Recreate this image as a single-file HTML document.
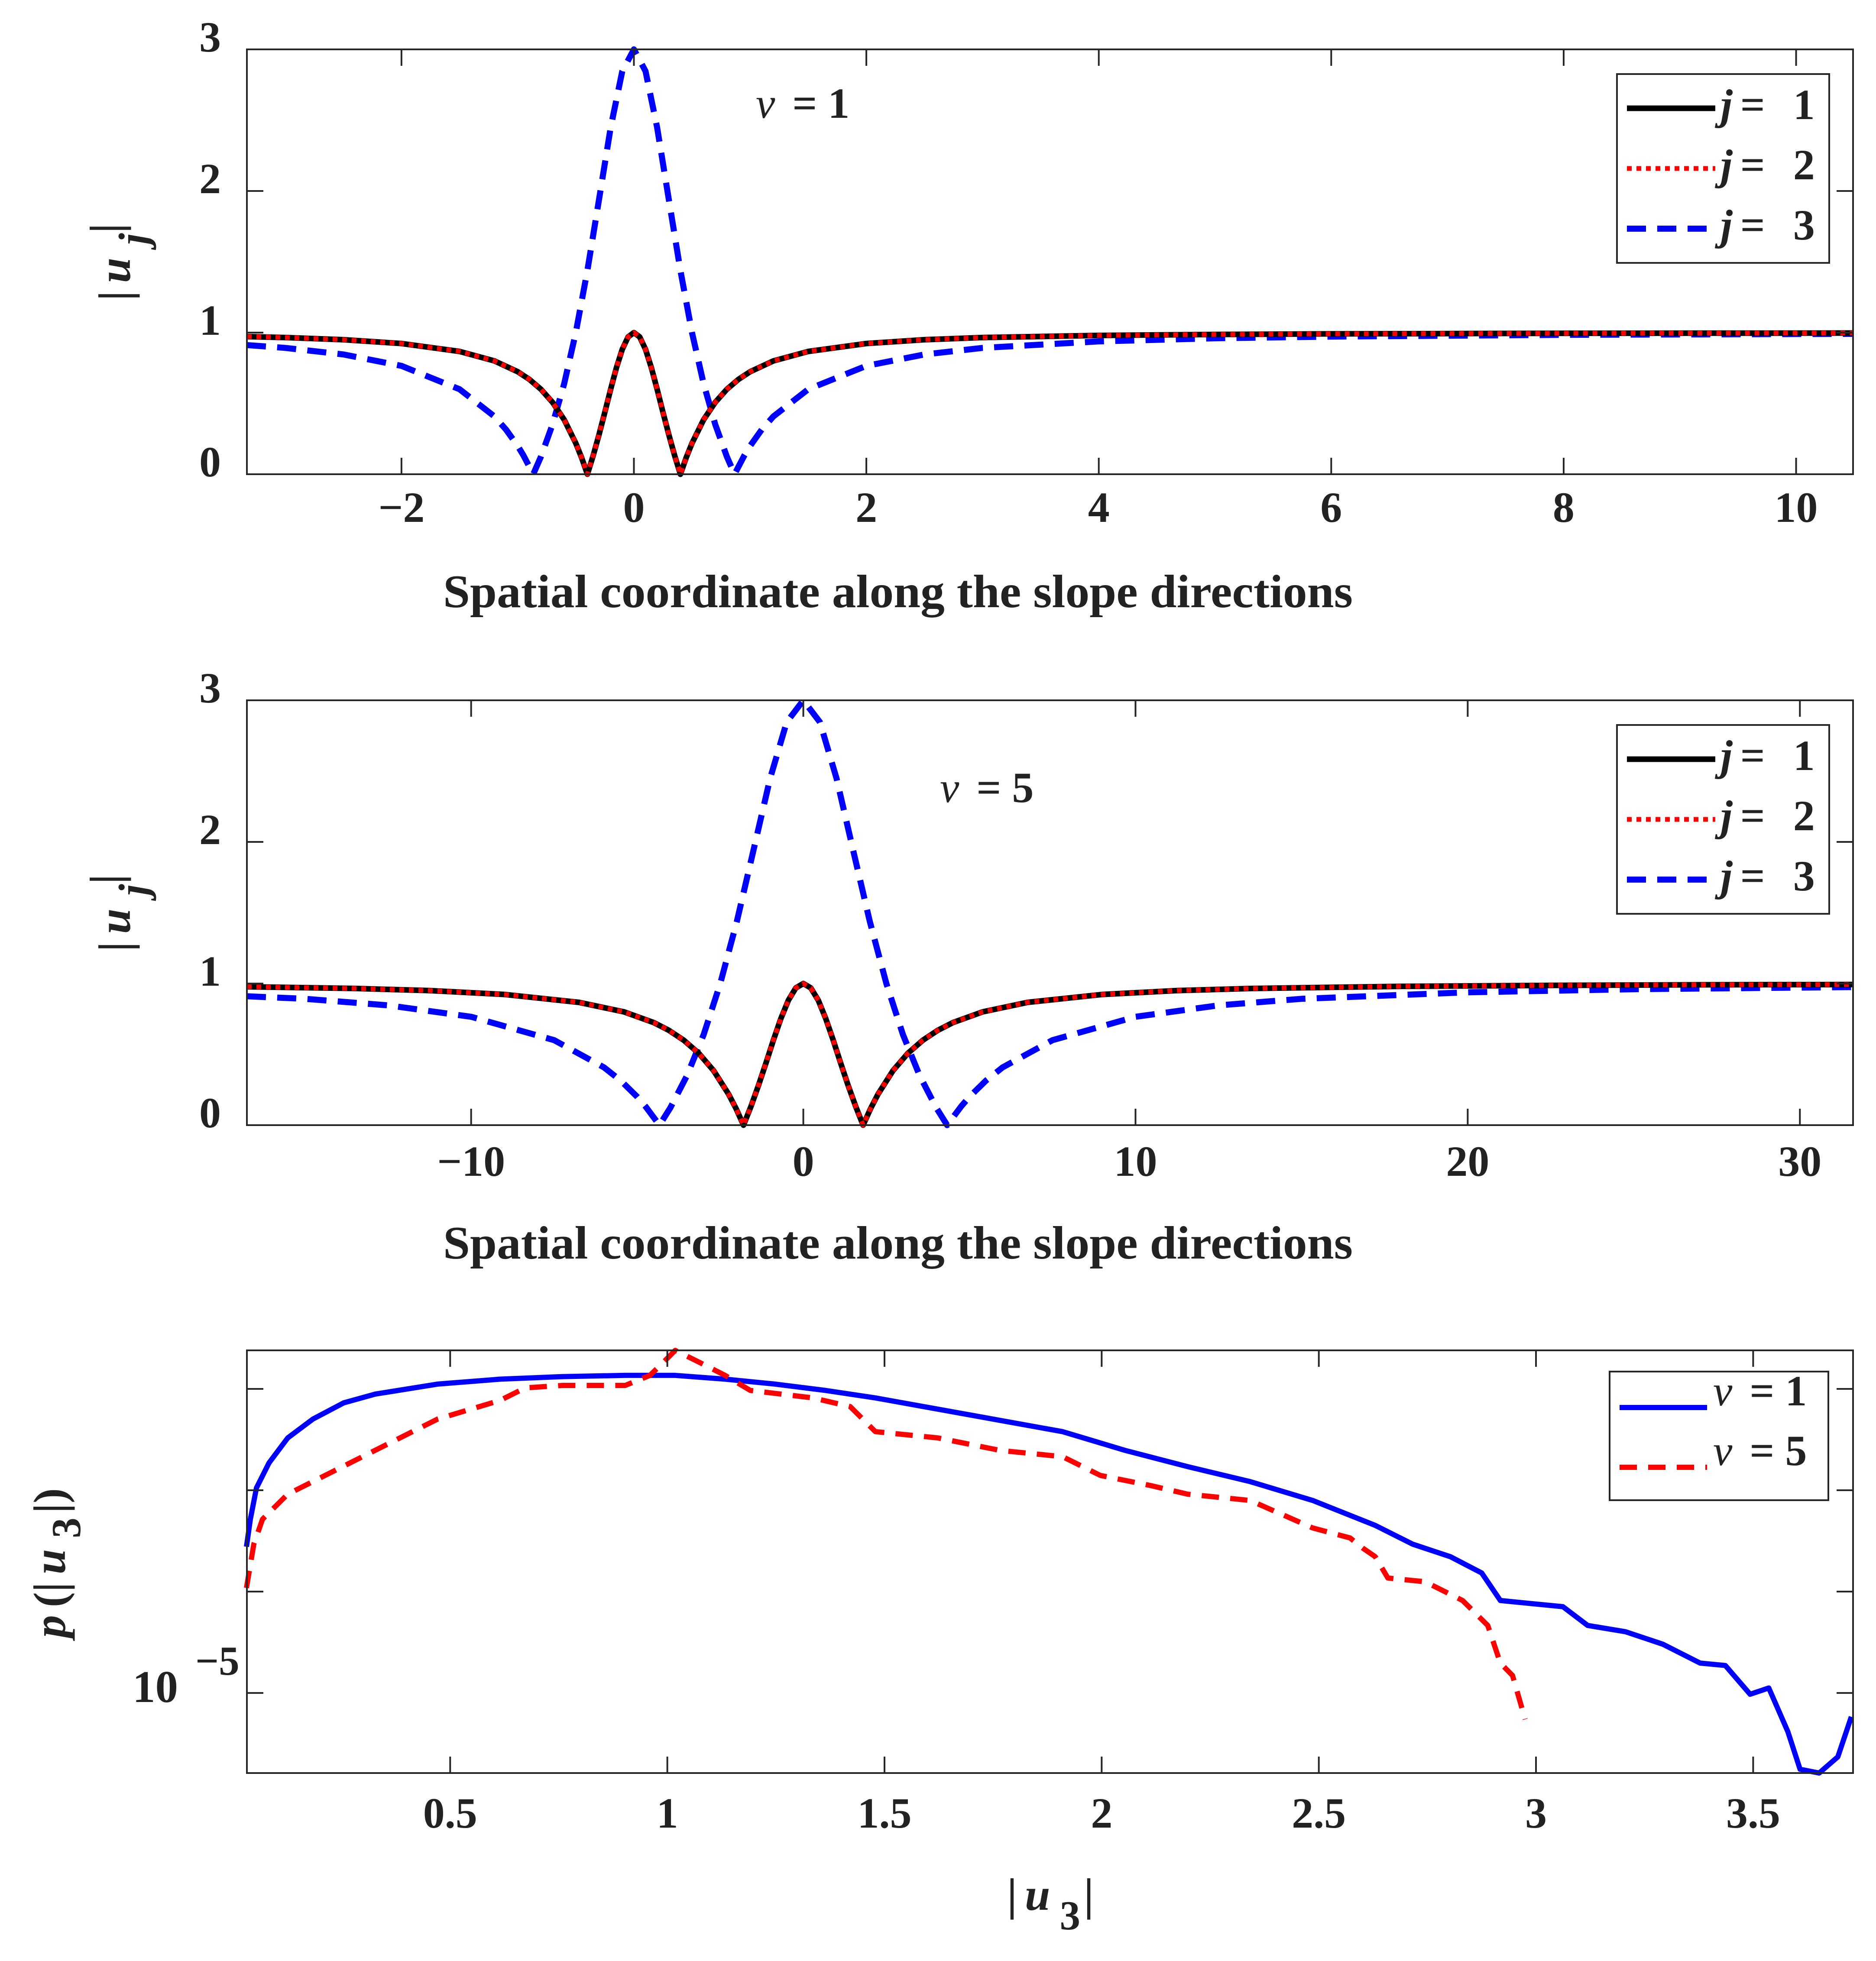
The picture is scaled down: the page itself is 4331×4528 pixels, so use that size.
<!DOCTYPE html>
<html><head><meta charset="utf-8"><style>
html,body{margin:0;padding:0;background:#fff}
svg{display:block}
text{font-family:"Liberation Serif",serif;font-weight:bold;fill:#222}
.it{font-style:italic}
</style></head><body>
<svg id="fig" width="4331" height="4528" viewBox="0 0 4331 4528" xmlns="http://www.w3.org/2000/svg"></svg>
<script>
// ---------- Panel 1 data (v = 1) ----------
const p1U1X = [-3.33,-3,-2.5,-2,-1.5,-1.2,-1,-0.9,-0.8,-0.7,-0.6,-0.5,-0.45,-0.4,-0.35,-0.3,-0.25,-0.2,-0.15,-0.1,-0.05,0,0.05,0.1,0.15,0.2,0.25,0.3,0.35,0.4,0.45,0.5,0.6,0.7,0.8,0.9,1,1.2,1.5,2,2.5,3,4,5,6,8,10.49];
const p1U1Y = [0.972,0.965,0.950,0.923,0.867,0.800,0.724,0.670,0.600,0.508,0.385,0.219,0.117,0,0.133,0.28,0.438,0.6,0.753,0.882,0.969,1,0.969,0.882,0.753,0.6,0.438,0.28,0.133,0,0.117,0.219,0.385,0.508,0.600,0.670,0.724,0.800,0.867,0.923,0.950,0.965,0.980,0.987,0.991,0.995,0.997];
const p1U2X = p1U1X.slice();
const p1U2Y = p1U1Y.slice();
const p1U3X = [-3.33,-3,-2.5,-2,-1.5,-1.2,-1.1,-1,-0.95,-0.866,-0.8,-0.7,-0.6,-0.5,-0.4,-0.3,-0.2,-0.1,0,0.1,0.2,0.3,0.4,0.5,0.6,0.7,0.8,0.866,0.95,1,1.1,1.2,1.5,2,2.5,3,4,5,6,8,10.49];
const p1U3Y = [0.912,0.892,0.846,0.765,0.6,0.408,0.315,0.2,0.132,0,0.124,0.351,0.639,1.0,1.439,1.941,2.448,2.846,3,2.846,2.448,1.941,1.439,1.0,0.639,0.351,0.124,0,0.132,0.2,0.315,0.408,0.6,0.765,0.846,0.892,0.938,0.960,0.972,0.984,0.991];
const p1XTicks = [-2,0,2,4,6,8,10];
const p1XTickLabels = ["\u22122","0","2","4","6","8","10"];
const p1YTicks = [0,1,2,3];
const p1YTickLabels = ["0","1","2","3"];

// ---------- Panel 2 data (v = 5) ----------
const p2U1X = [-16.75,-13.5,-11.25,-9,-6.75,-5.4,-4.5,-4.05,-3.6,-3.15,-2.7,-2.25,-2.025,-1.8,-1.575,-1.35,-1.125,-0.9,-0.675,-0.45,-0.225,0,0.225,0.45,0.675,0.9,1.125,1.35,1.575,1.8,2.025,2.25,2.7,3.15,3.6,4.05,4.5,5.4,6.75,9,11.25,13.5,18,22.5,27,31.6];
const p2U1Y = [0.977,0.965,0.950,0.923,0.867,0.800,0.724,0.670,0.600,0.508,0.385,0.219,0.117,0,0.133,0.28,0.438,0.6,0.753,0.882,0.969,1,0.969,0.882,0.753,0.6,0.438,0.28,0.133,0,0.117,0.219,0.385,0.508,0.600,0.670,0.724,0.800,0.867,0.923,0.950,0.965,0.980,0.987,0.991,0.993];
const p2U2X = p2U1X.slice();
const p2U2Y = p2U1Y.slice();
const p2U3X = [-16.75,-15,-12.5,-10,-7.5,-6,-5.5,-5,-4.75,-4.33,-4,-3.5,-3,-2.5,-2,-1.5,-1,-0.5,0,0.5,1,1.5,2,2.5,3,3.5,4,4.33,4.75,5,5.5,6,7.5,10,12.5,15,20,25,31.6];
const p2U3Y = [0.91,0.892,0.846,0.765,0.6,0.408,0.315,0.2,0.132,0,0.124,0.351,0.639,1.0,1.439,1.941,2.448,2.846,3,2.846,2.448,1.941,1.439,1.0,0.639,0.351,0.124,0,0.132,0.2,0.315,0.408,0.6,0.765,0.846,0.892,0.938,0.960,0.975];
const p2XTicks = [-10,0,10,20,30];
const p2XTickLabels = ["\u221210","0","10","20","30"];
const p2YTicks = [0,1,2,3];
const p2YTickLabels = ["0","1","2","3"];

// ---------- Panel 3 data (PDF, log10 p) ----------
const p3V1X = [0.031,0.040,0.054,0.083,0.126,0.184,0.255,0.327,0.471,0.615,0.759,0.903,1.018,1.133,1.248,1.364,1.479,1.623,1.766,1.910,2.054,2.198,2.342,2.486,2.630,2.716,2.803,2.875,2.918,2.975,3.062,3.119,3.206,3.292,3.378,3.436,3.493,3.536,3.580,3.608,3.652,3.695,3.726];
const p3V1LogP = [-3.557,-3.286,-2.977,-2.730,-2.484,-2.298,-2.138,-2.052,-1.953,-1.904,-1.879,-1.867,-1.867,-1.904,-1.953,-2.015,-2.089,-2.200,-2.311,-2.422,-2.607,-2.767,-2.915,-3.101,-3.347,-3.532,-3.656,-3.816,-4.088,-4.112,-4.149,-4.334,-4.396,-4.519,-4.705,-4.729,-5.013,-4.951,-5.383,-5.753,-5.790,-5.630,-5.235];
const p3V5X = [0.031,0.048,0.068,0.126,0.212,0.327,0.471,0.615,0.673,0.759,0.903,0.960,1.004,1.018,1.076,1.133,1.191,1.335,1.421,1.479,1.623,1.766,1.910,1.997,2.112,2.198,2.342,2.486,2.572,2.601,2.630,2.659,2.745,2.831,2.889,2.918,2.946,2.975];
const p3V5LogP = [-3.964,-3.532,-3.286,-3.039,-2.854,-2.607,-2.298,-2.114,-1.990,-1.966,-1.966,-1.867,-1.682,-1.620,-1.743,-1.867,-2.015,-2.089,-2.175,-2.422,-2.484,-2.607,-2.669,-2.854,-2.953,-3.039,-3.101,-3.372,-3.471,-3.570,-3.656,-3.866,-3.903,-4.088,-4.334,-4.705,-4.828,-5.260];
const p3XTicks = [0.5,1,1.5,2,2.5,3,3.5];
const p3XTickLabels = ["0.5","1","1.5","2","2.5","3","3.5"];
const p3YTicks = [-5,-4,-3,-2];

const NS = "http://www.w3.org/2000/svg";
const svg = document.getElementById("fig");
function mk(tag, attrs, parent){
  const e = document.createElementNS(NS, tag);
  for (const k in attrs) e.setAttribute(k, attrs[k]);
  (parent || svg).appendChild(e);
  return e;
}
const L = 570, R = 4278, TICK = 38;

function axes(top, bot, xmin, xmax, ymin, ymax, name){
  const g = mk("g", {});
  
  
  const sx = v => L + (v - xmin) / (xmax - xmin) * (R - L);
  const sy = v => bot - (v - ymin) / (ymax - ymin) * (bot - top);
  return {g, sx, sy, top, bot};
}
function drawFrame(ax, xt, xtl, yt, ytl, xlabelY){
  const fr = mk("g", {}, ax.g);
  
  
  mk("rect", {x:L, y:ax.top, width:R-L, height:ax.bot-ax.top, fill:"none", stroke:"#262626", "stroke-width":4}, fr);
  xt.forEach((v,i) => {
    const x = ax.sx(v);
    mk("line", {x1:x, x2:x, y1:ax.bot, y2:ax.bot-TICK, stroke:"#262626", "stroke-width":4}, fr);
    mk("line", {x1:x, x2:x, y1:ax.top, y2:ax.top+TICK, stroke:"#262626", "stroke-width":4}, fr);
    if (xtl) {
      const t = mk("text", {x:x, y:xlabelY, "font-size":100, "text-anchor":"middle"}, ax.g);
      
      
      t.textContent = xtl[i];
    }
  });
  yt.forEach((v,i) => {
    const y = ax.sy(v);
    mk("line", {x1:L, x2:L+TICK, y1:y, y2:y, stroke:"#262626", "stroke-width":4}, fr);
    mk("line", {x1:R, x2:R-TICK, y1:y, y2:y, stroke:"#262626", "stroke-width":4}, fr);
    if (ytl) {
      const t = mk("text", {x:510, y:y+5, "font-size":100, "text-anchor":"end"}, ax.g);
      
      
      t.textContent = ytl[i];
    }
  });
}
function series(ax, xs, ys, style, name){
  let d = "";
  xs.forEach((x,i) => { d += (i ? "L" : "M") + ax.sx(x).toFixed(1) + "," + ax.sy(ys[i]).toFixed(1); });
  const p = mk("path", Object.assign({d:d, fill:"none", "stroke-linejoin":"round"}, style), ax.g);
  
  
  return p;
}
const sBlack = {stroke:"#000", "stroke-width":13};
const sRed = {stroke:"#ff0000", "stroke-width":11, "stroke-dasharray":"11 11"};
const sBlue = {stroke:"#0000ff", "stroke-width":14, "stroke-dasharray":"44 26"};
const sBlueSolid = {stroke:"#0000ff", "stroke-width":12};
const sRedDash = {stroke:"#ff0000", "stroke-width":12, "stroke-dasharray":"40 26"};

function legendJ(y0, name){
  const g = mk("g", {});
  
  
  mk("rect", {x:3733, y:y0, width:490, height:436, fill:"#fff", stroke:"#262626", "stroke-width":4}, g);
  const rows = [[sBlack,"1"],[sRed,"2"],[sBlue,"3"]];
  rows.forEach((r,i) => {
    const y = y0 + 79 + i*139;
    const e = mk("g", {}, g);
    
    
    mk("line", Object.assign({x1:3756, x2:3960, y1:y, y2:y}, r[0]), e);
    const t = mk("text", {x:3972, y:y+25, "font-size":100}, e);
    t.innerHTML = '<tspan class="it">j</tspan><tspan dx="18">=</tspan><tspan dx="65">' + r[1] + '</tspan>';
  });
}
function ylabelUj(cy, name){
  const t = mk("text", {transform:"translate(300," + cy + ") rotate(-90)", "font-size":105, "text-anchor":"middle"});
  
  
  t.innerHTML = '|<tspan class="it" dx="18">u</tspan><tspan class="it" dx="30" dy="40" font-size="95">j</tspan><tspan dy="-60" dx="0">|</tspan>';
}
function xlabelSpatial(y, name){
  const t = mk("text", {x:2073, y:y, "font-size":108, "text-anchor":"middle", "textLength":2100, "lengthAdjust":"spacingAndGlyphs"});
  
  
  t.textContent = "Spatial coordinate along the slope directions";
}
function vTitle(x, y, val, name){
  const t = mk("text", {x:x, y:y, "font-size":100});
  
  
  t.innerHTML = '<tspan class="it" font-weight="normal">v</tspan><tspan dx="40">= ' + val + '</tspan>';
}

// Panel 1
const a1 = axes(114, 1095, -3.33, 10.49, 0, 3, "panel-v1");
series(a1, p1U3X, p1U3Y, sBlue, "line-u3-v1");
series(a1, p1U1X, p1U1Y, sBlack, "line-u1-v1");
series(a1, p1U2X, p1U2Y, sRed, "line-u2-v1");
drawFrame(a1, p1XTicks, p1XTickLabels, p1YTicks, p1YTickLabels, 1205);
legendJ(171, "legend-panel1");
ylabelUj(605, "y-axis-title-panel1");
xlabelSpatial(1402, "x-axis-title-panel1");
vTitle(1745, 272, "1", "title-v1");

// Panel 2
const a2 = axes(1617, 2598, -16.75, 31.6, 0, 3, "panel-v5");
series(a2, p2U3X, p2U3Y, sBlue, "line-u3-v5");
series(a2, p2U1X, p2U1Y, sBlack, "line-u1-v5");
series(a2, p2U2X, p2U2Y, sRed, "line-u2-v5");
drawFrame(a2, p2XTicks, p2XTickLabels, p2YTicks, p2YTickLabels, 2715);
legendJ(1674, "legend-panel2");
ylabelUj(2108, "y-axis-title-panel2");
xlabelSpatial(2906, "x-axis-title-panel2");
vTitle(2170, 1852, "5", "title-v5");

// Panel 3
const a3 = axes(3118, 4094, 0.032, 3.73, -5.79, -1.62, "panel-pdf");
series(a3, p3V1X, p3V1LogP, sBlueSolid, "line-pdf-v1");
series(a3, p3V5X, p3V5LogP, sRedDash, "line-pdf-v5");
drawFrame(a3, p3XTicks, p3XTickLabels, p3YTicks, null, 4220);
(function(){
  const t = mk("text", {x:306, y:3930, "font-size":105});
  
  
  t.innerHTML = '10<tspan dx="40" dy="-63" font-size="95">\u22125</tspan>';
  const g = mk("g", {});
  
  
  mk("rect", {x:3716, y:3167, width:505, height:297, fill:"#fff", stroke:"#262626", "stroke-width":4}, g);
  [[sBlueSolid,"1",3250],[sRedDash,"5",3388]].forEach(r => {
    const e = mk("g", {}, g);
    
    
    mk("line", Object.assign({x1:3739, x2:3941, y1:r[2], y2:r[2]}, r[0]), e);
    const tt = mk("text", {x:3955, y:r[2]-5, "font-size":100}, e);
    tt.innerHTML = '<tspan class="it" font-weight="normal">v</tspan><tspan dx="40">= ' + r[1] + '</tspan>';
  });
  const yl = mk("text", {transform:"translate(150,3609) rotate(-90)", "font-size":105, "text-anchor":"middle"});
  
  
  yl.innerHTML = '<tspan class="it">p</tspan><tspan dx="18">(|</tspan><tspan class="it" dx="18">u</tspan><tspan dx="25" dy="35" font-size="95">3</tspan><tspan dx="10" dy="-35">|)</tspan>';
  const xl = mk("text", {x:2425, y:4410, "font-size":105, "text-anchor":"middle"});
  
  
  xl.innerHTML = '|<tspan class="it" dx="18">u</tspan><tspan dx="22" dy="45" font-size="95">3</tspan><tspan dx="8" dy="-45">|</tspan>';
})();
</script>
</body></html>
